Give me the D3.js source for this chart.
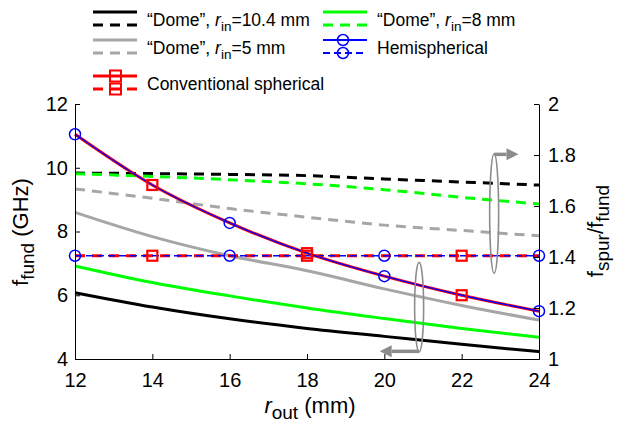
<!DOCTYPE html>
<html><head><meta charset="utf-8">
<script src="https://cdn.jsdelivr.net/npm/d3@7"></script>
<style>body{margin:0;background:#fff}svg{font-family:"Liberation Sans",Arial,sans-serif}</style>
</head><body><svg id="c" width="618" height="431"></svg>
<script>
const rOut = [12,14,16,18,20,22,24];
// left axis: fundamental frequency (GHz)
const dome104Fund = [6.08,5.63,5.26,4.96,4.71,4.46,4.23];
const dome8Fund   = [6.92,6.40,5.98,5.60,5.27,4.96,4.68];
const dome5Fund   = [8.60,7.84,7.24,6.77,6.20,5.68,5.22];
const hemiFund    = [11.05,9.46,8.27,7.32,6.60,6.00,5.50];
const convFund    = [11.05,9.46,8.27,7.32,6.60,6.00,5.50];
// right axis: spurious / fundamental ratio
const dome104Ratio = [1.729,1.727,1.724,1.719,1.706,1.694,1.682];
const dome8Ratio   = [1.727,1.716,1.703,1.687,1.664,1.634,1.608];
const dome5Ratio   = [1.667,1.630,1.590,1.556,1.525,1.504,1.483];
const hemiRatio    = [1.405,1.405,1.405,1.405,1.405,1.405,1.405];
const convRatio    = [1.405,1.405,1.405,1.405,1.405,1.405,1.405];
const xTicks = [12,14,16,18,20,22,24];
const yTicks = [4,6,8,10,12];
const y2Ticks = [1,1.2,1.4,1.6,1.8,2];
const hemiMarkIdx = [0,2,4,6];
const convMarkIdx = [1,3,5];

const svg = d3.select("#c");
const L=75,R=539,T=104,B=359;
const x = d3.scaleLinear().domain([12,24]).range([L,R]);
const y = d3.scaleLinear().domain([4,12]).range([B,T]);
const y2 = d3.scaleLinear().domain([1,2]).range([B,T]);

const col = {black:"#000",green:"#00ff00",gray:"#a6a6a6",blue:"#0000ff",red:"#ff0000"};
const line = (ys, sc) => d3.line().curve(d3.curveMonotoneX).x((d,i)=>x(rOut[i])).y(d=>sc(d))(ys);

function path(ys, sc, color, w, dash){
  svg.append("path").attr("d",line(ys,sc)).attr("fill","none").attr("stroke",color)
    .attr("stroke-width",w).attr("stroke-dasharray",dash||null);
}
// dashed (ratio) lines
path(dome104Ratio,y2,col.black,3,"10,7");
path(dome8Ratio,y2,col.green,3,"10,7");
path(dome5Ratio,y2,col.gray,3,"10,7");
// solid (fund) lines
path(dome104Fund,y,col.black,3);
path(dome8Fund,y,col.green,3);
path(dome5Fund,y,col.gray,3);
// conventional & hemispherical
path(convRatio,y2,col.red,3,"10,7");
path(hemiRatio,y2,col.blue,1.3,"7,4");
path(convFund,y,col.red,3);
path(hemiFund,y,col.blue,1.3);
// markers
convMarkIdx.forEach(i=>{
  [[convFund[i],y],[convRatio[i],y2]].forEach(([v,sc])=>{
    svg.append("rect").attr("x",x(rOut[i])-5).attr("y",sc(v)-5).attr("width",10).attr("height",10)
      .attr("fill","none").attr("stroke",col.red).attr("stroke-width",2.2);
  });
});
hemiMarkIdx.forEach(i=>{
  [[hemiFund[i],y],[hemiRatio[i],y2]].forEach(([v,sc])=>{
    svg.append("circle").attr("cx",x(rOut[i])).attr("cy",sc(v)).attr("r",5.5)
      .attr("fill","none").attr("stroke",col.blue).attr("stroke-width",1.5);
  });
});

// axes
const fmt = d3.format("~g");
const gl = svg.append("g").attr("transform",`translate(${L},0)`)
  .call(d3.axisLeft(y).tickValues(yTicks).tickSizeInner(-5).tickSizeOuter(0).tickPadding(7).tickFormat(fmt));
const gr = svg.append("g").attr("transform",`translate(${R},0)`)
  .call(d3.axisRight(y2).tickValues(y2Ticks).tickSizeInner(-5).tickSizeOuter(0).tickPadding(9).tickFormat(fmt));
const gb = svg.append("g").attr("transform",`translate(0,${B})`)
  .call(d3.axisBottom(x).tickValues(xTicks).tickSizeInner(-5).tickSizeOuter(0).tickPadding(14).tickFormat(fmt));
[gl,gr,gb].forEach(g=>{
  g.attr("font-family",null).attr("font-size",null);
  g.selectAll("text").attr("font-size",20).attr("fill","#000").style("font-family","'Liberation Sans', Arial, sans-serif");
  g.selectAll("path,line").attr("stroke","#000").attr("stroke-width",1);
});

// axis labels
const yl = svg.append("text").attr("transform","translate(28,232) rotate(-90)").attr("text-anchor","middle").attr("font-size",22);
yl.append("tspan").text("f");
yl.append("tspan").attr("dy",6).attr("font-size",19).text("fund");
yl.append("tspan").attr("dy",-6).text(" (GHz)");
const yr = svg.append("text").attr("transform","translate(603,231) rotate(-90)").attr("text-anchor","middle").attr("font-size",22);
yr.append("tspan").text("f");
yr.append("tspan").attr("dy",6).attr("font-size",19).text("spur");
yr.append("tspan").attr("dy",-6).text("/f");
yr.append("tspan").attr("dy",6).attr("font-size",19).text("fund");
const xl = svg.append("text").attr("x",310).attr("y",413).attr("text-anchor","middle").attr("font-size",22);
xl.append("tspan").attr("font-style","italic").text("r");
xl.append("tspan").attr("dy",6).attr("font-size",19).text("out");
xl.append("tspan").attr("dy",-6).text(" (mm)");

// annotations (grey ellipses + arrows) in data coordinates
const ann = svg.append("g").attr("stroke","#8c8c8c").attr("fill","none");
function ellipse(cxV, y0V, y1V){
  const cy=(y(y0V)+y(y1V))/2, ry=Math.abs(y(y0V)-y(y1V))/2;
  ann.append("ellipse").attr("cx",x(cxV)).attr("cy",cy).attr("rx",4.5).attr("ry",ry).attr("stroke-width",1.6);
}
ellipse(22.84,10.44,6.69);
ellipse(20.9,7.03,4.22);
function arrow(x0V,x1V,yV){
  const x0=x(x0V), x1=x(x1V), yy=y(yV), dir=Math.sign(x1-x0), hl=12;
  ann.append("line").attr("x1",x0).attr("y1",yy).attr("x2",x1-dir*hl).attr("y2",yy).attr("stroke-width",3.5);
  svg.append("path").attr("d",`M${x1},${yy}L${x1-dir*hl},${yy-6}L${x1-dir*hl},${yy+6}Z`).attr("fill","#8c8c8c");
}
arrow(22.84,23.47,10.42);
arrow(20.9,19.88,4.24);

// legend
const lg = svg.append("g").attr("font-size",17.5);
const items = [
  {x:93,row:0,c:col.black,w:3,label:["\u201cDome\u201d, ","r","in","=10.4 mm"]},
  {x:323,row:0,c:col.green,w:3,label:["\u201cDome\u201d, ","r","in","=8 mm"]},
  {x:93,row:1,c:col.gray,w:3,label:["\u201cDome\u201d, ","r","in","=5 mm"]},
  {x:323,row:1,c:col.blue,w:1.8,mk:"circle",label:["Hemispherical"]},
  {x:93,row:2,c:col.red,w:3,mk:"square",label:["Conventional spherical"]}
];
const rowY=[12,40,76];
items.forEach(it=>{
  const y0=rowY[it.row], y1=y0+13, x0=it.x, x1=it.x+44;
  lg.append("line").attr("x1",x0).attr("x2",x1).attr("y1",y0).attr("y2",y0).attr("stroke",it.c).attr("stroke-width",it.w);
  lg.append("line").attr("x1",x0).attr("x2",x1).attr("y1",y1).attr("y2",y1).attr("stroke",it.c).attr("stroke-width",it.w).attr("stroke-dasharray",it.mk==="circle"?"7,4":"10,7");
  [y0,y1].forEach(yy=>{
    if(it.mk==="circle") lg.append("circle").attr("cx",x0+20).attr("cy",yy).attr("r",5.5).attr("fill","none").attr("stroke",it.c).attr("stroke-width",1.5);
    if(it.mk==="square") lg.append("rect").attr("x",x0+17).attr("y",yy-5.5).attr("width",11).attr("height",11).attr("fill","none").attr("stroke",it.c).attr("stroke-width",2);
  });
  const t = lg.append("text").attr("x",x0+54).attr("y",y0+14);
  if(it.label.length===1) t.text(it.label[0]);
  else{
    t.append("tspan").text(it.label[0]);
    t.append("tspan").attr("font-style","italic").text(it.label[1]);
    t.append("tspan").attr("dy",5).attr("font-size",13.5).text(it.label[2]);
    t.append("tspan").attr("dy",-5).text(it.label[3]);
  }
});
</script></body></html>
